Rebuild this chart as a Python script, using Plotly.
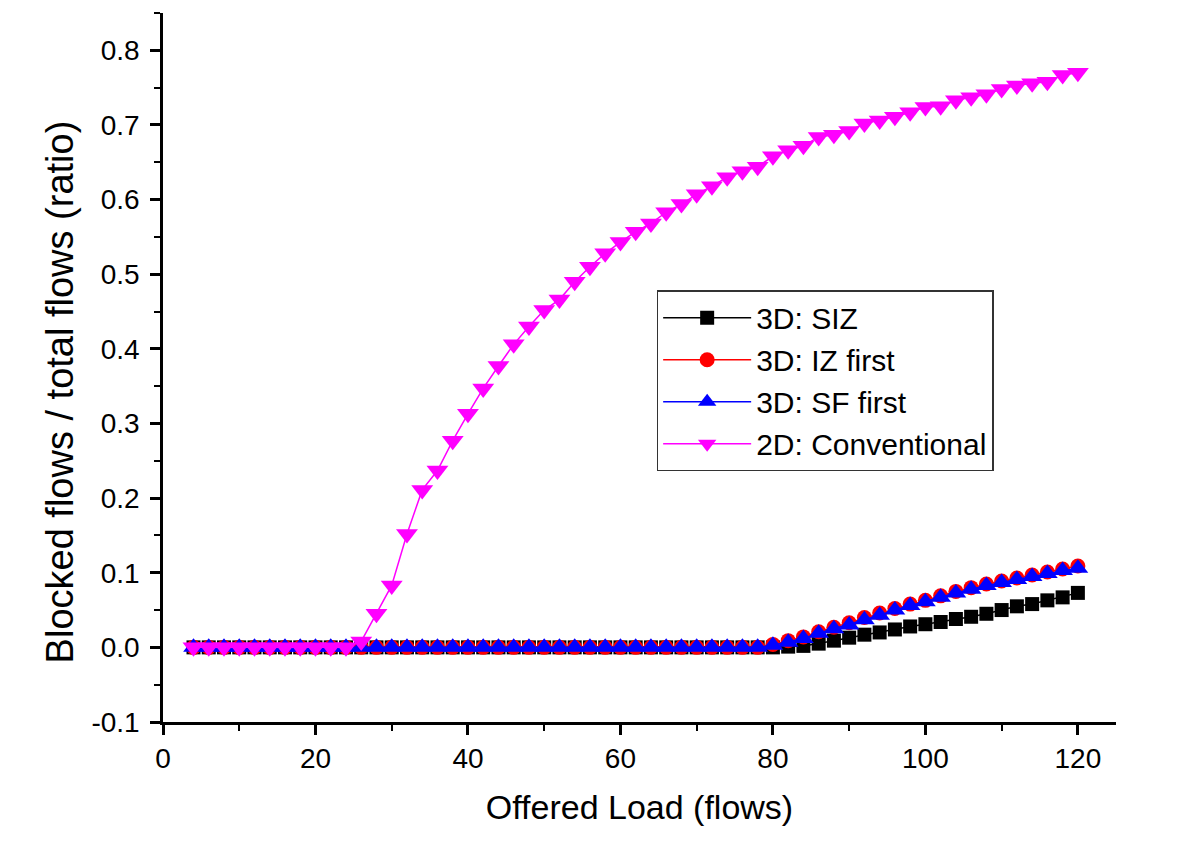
import plotly.graph_objects as go

offered_load = [4, 6, 8, 10, 12, 14, 16, 18, 20, 22, 24, 26, 28, 30, 32, 34, 36, 38, 40, 42,
                44, 46, 48, 50, 52, 54, 56, 58, 60, 62, 64, 66, 68, 70, 72, 74, 76, 78, 80, 82,
                84, 86, 88, 90, 92, 94, 96, 98, 100, 102, 104, 106, 108, 110, 112, 114, 116, 118, 120]

siz_3d = [0, 0, 0, 0, 0, 0, 0, 0, 0, 0, 0, 0, 0, 0, 0, 0, 0, 0, 0, 0,
          0, 0, 0, 0, 0, 0, 0, 0, 0, 0, 0, 0, 0, 0, 0, 0, 0, 0, 0, 0.001,
          0.002, 0.005, 0.009, 0.013, 0.017, 0.020, 0.024, 0.028, 0.031, 0.034,
          0.038, 0.041, 0.045, 0.050, 0.055, 0.058, 0.063, 0.067, 0.073]

iz_first_3d = [0, 0, 0, 0, 0, 0, 0, 0, 0, 0, 0, 0, 0, 0, 0, 0, 0, 0, 0, 0,
               0, 0, 0, 0, 0, 0, 0, 0, 0, 0, 0, 0, 0, 0, 0, 0, 0, 0, 0.004, 0.009,
               0.014, 0.021, 0.027, 0.033, 0.040, 0.046, 0.052, 0.058, 0.063, 0.069,
               0.075, 0.080, 0.085, 0.089, 0.093, 0.097, 0.101, 0.105, 0.109]

sf_first_3d = [0, 0, 0, 0, 0, 0, 0, 0, 0, 0, 0, 0, 0, 0, 0, 0, 0, 0, 0, 0,
               0, 0, 0, 0, 0, 0, 0, 0, 0, 0, 0, 0, 0, 0, 0, 0, 0, 0, 0.003, 0.007,
               0.012, 0.019, 0.025, 0.030, 0.037, 0.043, 0.050, 0.056, 0.061, 0.067,
               0.073, 0.078, 0.083, 0.087, 0.091, 0.095, 0.099, 0.103, 0.106]

conventional_2d = [0, 0, 0, 0, 0, 0, 0, 0, 0, 0, 0, 0.008, 0.045, 0.083, 0.152, 0.211, 0.237, 0.277, 0.313, 0.347,
                   0.377, 0.406, 0.430, 0.452, 0.466, 0.490, 0.510, 0.528, 0.543, 0.557, 0.568, 0.583, 0.594, 0.607, 0.618, 0.630, 0.638, 0.644, 0.658, 0.666,
                   0.672, 0.684, 0.687, 0.692, 0.702, 0.706, 0.711, 0.717, 0.724, 0.725, 0.733, 0.737, 0.741, 0.748, 0.753, 0.756, 0.758, 0.767, 0.770]

series_names = ["3D: SIZ", "3D: IZ first", "3D: SF first", "2D: Conventional"]
series_values = [siz_3d, iz_first_3d, sf_first_3d, conventional_2d]
series_colors = ["#000000", "#FF0000", "#0000FF", "#FF00FF"]
series_symbols = ["square", "circle", "triangle-up", "triangle-down"]
series_sizes = [14, 15, 18, 19]

x_ticks = [0, 20, 40, 60, 80, 100, 120]
y_ticks = [-0.1, 0.0, 0.1, 0.2, 0.3, 0.4, 0.5, 0.6, 0.7, 0.8]
y_tick_text = ["-0.1", "0.0", "0.1", "0.2", "0.3", "0.4", "0.5", "0.6", "0.7", "0.8"]

x_title = "Offered Load (flows)"
y_title = "Blocked flows / total flows (ratio)"

FONT = "Liberation Sans, Arial, sans-serif"

fig = go.Figure()
for name, vals, col, sym, sz in zip(series_names, series_values, series_colors, series_symbols, series_sizes):
    fig.add_trace(go.Scatter(
        x=offered_load, y=vals, name=name, mode="lines+markers",
        line=dict(color=col, width=1.5),
        marker=dict(symbol=sym, size=sz, color=col, line=dict(width=0)),
    ))

axis_common = dict(
    showline=True, linecolor="black", linewidth=2.5, mirror=False,
    ticks="outside", ticklen=10, tickwidth=2.5, tickcolor="black",
    showgrid=False, zeroline=False,
    tickfont=dict(family=FONT, size=28, color="black"),
)

fig.update_layout(
    width=1200, height=844,
    paper_bgcolor="white", plot_bgcolor="white",
    margin=dict(l=155, r=92, t=5, b=130),
    xaxis=dict(range=[0, 125], tickvals=x_ticks,
               minor=dict(dtick=10, ticklen=6, tickwidth=2, ticks="outside", tickcolor="black", showgrid=False),
               title=dict(text=x_title, font=dict(family=FONT, size=34, color="black"), standoff=22),
               **axis_common),
    yaxis=dict(range=[-0.1, 0.85], tickvals=y_ticks, ticktext=y_tick_text,
               ticklabelstandoff=5,
               minor=dict(dtick=0.05, tick0=0, ticklen=6, tickwidth=2, ticks="outside", tickcolor="black", showgrid=False),
               **axis_common),
    legend=dict(x=0.518, y=0.609, xanchor="left", yanchor="top",
                bordercolor="#333333", borderwidth=1.5, bgcolor="white",
                font=dict(family=FONT, size=30, color="black"),
                itemwidth=88, tracegroupgap=0),
    showlegend=True,
)

fig.add_annotation(
    text=y_title, textangle=-90, showarrow=False,
    xref="paper", yref="paper", x=-0.108, y=0.465,
    xanchor="center", yanchor="middle",
    font=dict(family=FONT, size=38, color="black"),
)

fig.write_html("out.html")
